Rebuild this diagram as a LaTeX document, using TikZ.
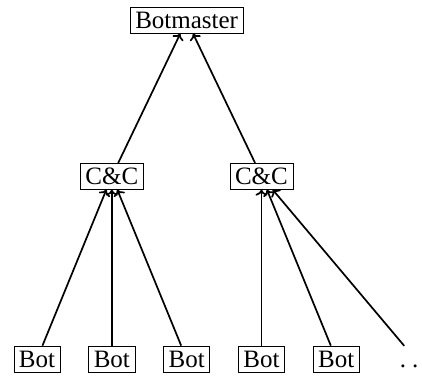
\documentclass[tikz,border=0pt]{standalone}
\usepackage{fontspec}
\setmainfont{Liberation Serif}
\usetikzlibrary{positioning}
\usetikzlibrary{arrows.meta}

\begin{document}
\begin{tikzpicture}[
    font=\fontsize{25}{30}\selectfont,
    node distance=156pt and 28pt,
    cell/.style={inner xsep=5pt, inner ysep=4.5pt, text height=17pt, text depth=0pt},
    box/.style={cell, draw, line width=0.7pt},
    link/.style={-{To[length=6pt, width=12pt]}, line width=1.7pt},
    ]
    \useasboundingbox (0,0) rectangle (422pt,381pt);

    \node[box] (b1) at (37pt,22pt) {Bot};
    \node[box, right=of b1] (b2) {Bot};
    \node[box, right=of b2] (b3) {Bot};
    \node[box, right=of b3] (b4) {Bot};
    \node[box, right=of b4] (b5) {Bot};
    \node[cell, right=35pt of b5] (more) {.\kern6pt.\kern6pt.};

    \node[box, above=of b2] (cc1) {C\&C};
    \node[box, above=of b4] (cc2) {C\&C};
    \node[box, above=312pt of b3] (master) {Botmaster};

    \draw[link] (b1) -- (cc1);
    \draw[link] (b2) -- (cc1);
    \draw[link] (b3) -- (cc1);
    \draw[link] (b4) -- (cc2);
    \draw[link] (b5) -- (cc2);
    \draw[link] (more) -- (cc2);
    \draw[link] (cc1) -- (master);
    \draw[link] (cc2) -- (master);
\end{tikzpicture}
\end{document}
